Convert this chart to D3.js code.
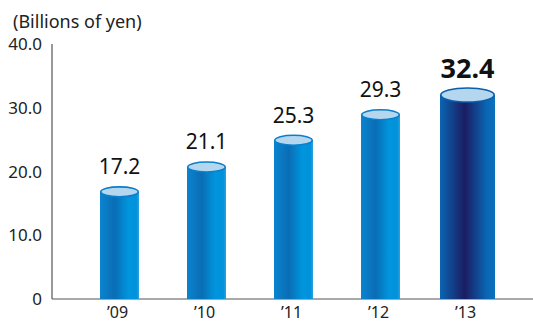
<!DOCTYPE html>
<html><head><meta charset="utf-8">
<script src="https://cdn.jsdelivr.net/npm/d3@7"></script>
<style>body{margin:0;background:#fff}svg{display:block}text{font-family:"Noto Sans","Open Sans",sans-serif}</style>
</head><body>
<svg id="c" width="533" height="322"></svg>
<script>
const categories = ["’09","’10","’11","’12","’13"];
const values = [17.2, 21.1, 25.3, 29.3, 32.4];
const valueLabels = ["17.2","21.1","25.3","29.3","32.4"];
const yTicks = [0, 10, 20, 30, 40];
const yTickLabels = ["0","10.0","20.0","30.0","40.0"];
const unitLabel = "(Billions of yen)";

const svg = d3.select("#c");
const y = d3.scaleLinear().domain([0, 40]).range([299, 44]);
const x = d3.scaleBand().domain(categories).range([76, 511]).paddingInner(0).paddingOuter(0);

const defs = svg.append("defs");
const g1 = defs.append("linearGradient").attr("id","gBlue").attr("x1","0").attr("x2","1").attr("y1","0").attr("y2","0");
[[0,"#0a84cf"],[0.38,"#0a6db5"],[0.72,"#0095dd"],[0.93,"#0092da"],[1,"#2aa0e0"]].forEach(s=>g1.append("stop").attr("offset",s[0]).attr("stop-color",s[1]));
const g2 = defs.append("linearGradient").attr("id","gDark").attr("x1","0").attr("x2","1").attr("y1","0").attr("y2","0");
[[0,"#0a64b2"],[0.45,"#1b1d62"],[0.85,"#0a66b4"],[1,"#0a72be"]].forEach(s=>g2.append("stop").attr("offset",s[0]).attr("stop-color",s[1]));

// axes
svg.append("line").attr("x1",52).attr("x2",52).attr("y1",y(40)).attr("y2",y(0)).attr("stroke","#555").attr("stroke-width",1.2);
svg.append("line").attr("x1",52).attr("x2",533).attr("y1",y(0)).attr("y2",y(0)).attr("stroke","#555").attr("stroke-width",1.2);

svg.selectAll(".yt").data(yTicks).enter().append("text")
  .attr("x",42).attr("y",d=>y(d)).attr("dy","0.36em").attr("text-anchor","end")
  .attr("font-size",17).attr("fill","#222").text((d,i)=>yTickLabels[i]);

svg.append("text").attr("x",13).attr("y",28).attr("font-size",18).attr("fill","#222").text(unitLabel);

const last = categories.length-1;
const bars = svg.selectAll(".bar").data(values).enter().append("g");
bars.each(function(v,i){
  const g = d3.select(this);
  const cx = x(categories[i]) + x.bandwidth()/2;
  const w = i===last ? 55 : 39;
  const ry = i===last ? 7 : 5;
  const top = y(v) + 2.5;
  g.append("rect").attr("x",cx-w/2).attr("y",top).attr("width",w).attr("height",y(0)-top)
    .attr("fill", i===last ? "url(#gDark)" : "url(#gBlue)");
  g.append("ellipse").attr("cx",cx).attr("cy",top).attr("rx",w/2-0.8).attr("ry",ry)
    .attr("fill","#b4d7ef").attr("stroke", i===last ? "#0a5eaa" : "#0a7fcb").attr("stroke-width",1.6);
  g.append("text").attr("x",cx).attr("y", y(v) - (i===last?14:15)).attr("text-anchor","middle")
    .attr("font-size", i===last?27:21).attr("font-weight", i===last?"bold":"normal")
    .attr("fill","#111").text(valueLabels[i]);
  g.append("text").attr("x",cx-2).attr("y",318).attr("text-anchor","middle")
    .attr("font-size",16).attr("fill","#222").text(categories[i]);
});
</script>
</body></html>
